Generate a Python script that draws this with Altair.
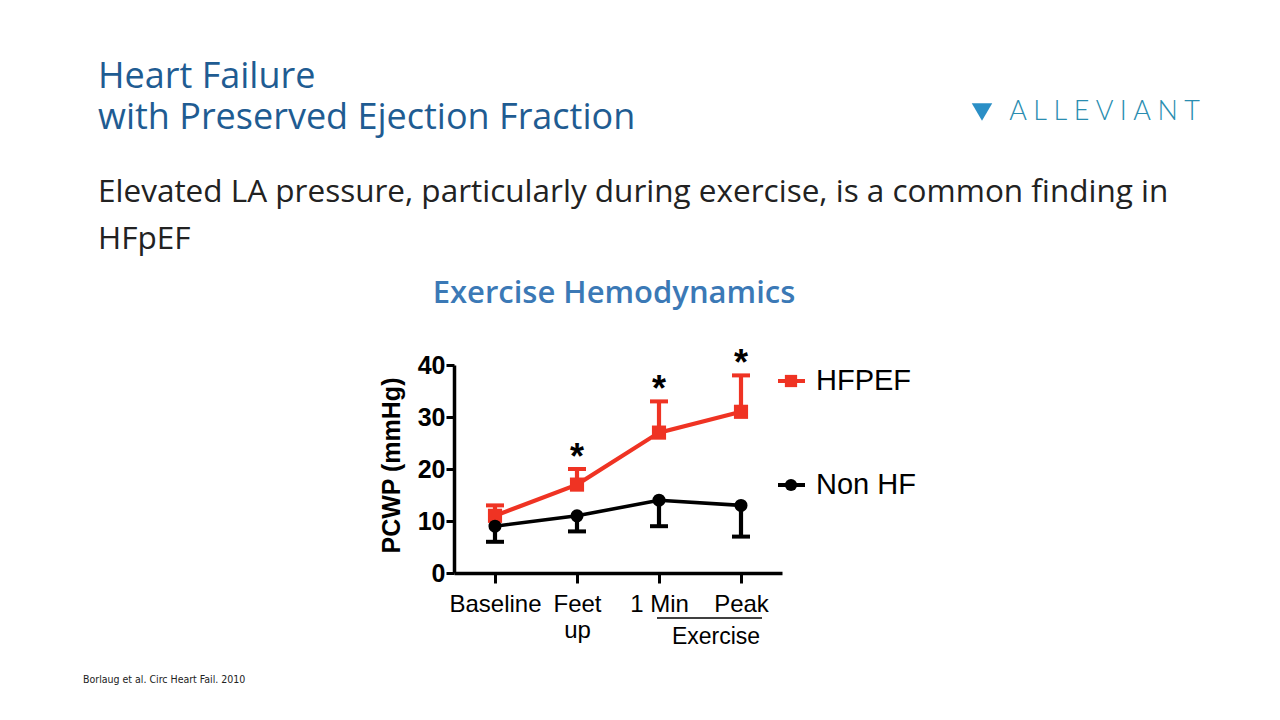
import altair as alt
import pandas as pd

# ---- data ----
categories = ["Baseline", "Feet|up", "1 Min", "Peak"]
hfpef_mean = [11, 17, 27, 31]
hfpef_upper = [13, 20, 33, 38]
nonhf_mean = [9, 11, 14, 13]
nonhf_lower = [6, 8, 9, 7]
significant = [False, True, True, True]
y_ticks = [0, 10, 20, 30, 40]

series_names = ["HFPEF", "Non HF"]
series_colors = ["#ef3323", "#000000"]

title_line1 = "Heart Failure"
title_line2 = "with Preserved Ejection Fraction"
subtitle_lines = "Elevated LA pressure, particularly during exercise, is a common finding in\nHFpEF"
chart_heading = "Exercise Hemodynamics"
logo_text = "A L L E V I A N T"
footnote = "Borlaug et al. Circ Heart Fail. 2010"
group_label = "Exercise"

hf = pd.DataFrame({"cat": categories, "mean": hfpef_mean, "err": hfpef_upper,
                   "series": series_names[0], "sig": significant})
nh = pd.DataFrame({"cat": categories, "mean": nonhf_mean, "err": nonhf_lower,
                   "series": series_names[1]})
stars = hf[hf["sig"]].assign(star="*")

FONT = "Liberation Sans"
SLIDE_FONT = "Open Sans"

xscale = alt.Scale(domain=categories, type="point", padding=0.5)
yscale = alt.Scale(domain=[0, 40], nice=False)

X = alt.X("cat:N", scale=xscale, sort=None,
          axis=alt.Axis(title=None, labelExpr="split(datum.label, '|')",
                        labelFont=FONT, labelFontSize=24, labelColor="black",
                        labelLineHeight=26, labelPadding=9, labelAngle=0,
                        tickSize=10, tickWidth=3, tickColor="black",
                        domainWidth=3.5, domainColor="black", grid=False))
Y = alt.Y("mean:Q", scale=yscale,
          axis=alt.Axis(values=y_ticks, title="PCWP (mmHg)", grid=False,
                        labelFont=FONT, labelFontSize=25, labelFontWeight="bold",
                        labelColor="black", labelPadding=1,
                        tickSize=8, tickWidth=3, tickColor="black",
                        domainWidth=3.5, domainColor="black",
                        titleFont=FONT, titleFontSize=25, titleFontWeight="bold",
                        titleColor="black", titleAngle=270, titleX=-63, titleY=100,
                        titleAlign="center", titleBaseline="middle"))

def series_layers(df, color, shape, size, lw):
    base = alt.Chart(df)
    bar = base.mark_rule(color=color, strokeWidth=4.2).encode(x=X, y=Y, y2="err:Q")
    cap = base.mark_tick(color=color, size=18, thickness=4, opacity=1).encode(
        x=alt.X("cat:N", scale=xscale, sort=None),
        y=alt.Y("err:Q", scale=yscale))
    line = base.mark_line(color=color, strokeWidth=lw).encode(x=X, y=Y)
    pts = base.mark_point(color=color, filled=True, opacity=1, shape=shape, size=size).encode(x=X, y=Y)
    return [bar, cap, line, pts]

layers = []
layers += series_layers(hf, series_colors[0], "square", 200, 4.2)
layers += series_layers(nh, series_colors[1], "circle", 170, 3.6)

star_layer = alt.Chart(stars).mark_text(font=FONT, fontSize=36, fontWeight="bold",
                                        color="black", baseline="alphabetic", dy=0).encode(
    x=alt.X("cat:N", scale=xscale, sort=None), y=alt.Y("err:Q", scale=yscale), text="star:N")
layers.append(star_layer)

# group annotation under the x axis
grp = pd.DataFrame({"start": [categories[2]], "end": [categories[3]], "label": [group_label]})
grp_rule = alt.Chart(grp).mark_rule(color="black", strokeWidth=1.5, xOffset=-2, x2Offset=21).encode(
    x=alt.X("start:N", scale=xscale, sort=None), x2="end:N", y=alt.value(253))
grp_text = alt.Chart(grp).mark_text(font=FONT, fontSize=23, color="black",
                                    baseline="middle", align="center", dx=-25).encode(
    x=alt.X("end:N", scale=xscale, sort=None), y=alt.value(272), text="label:N")
layers += [grp_rule, grp_text]

# legend
for i, (name, color, shape, yv) in enumerate(zip(series_names, series_colors, ["square", "circle"], [16, 120])):
    ld = pd.DataFrame({"name": [name]})
    layers.append(alt.Chart(ld).mark_rule(color=color, strokeWidth=4).encode(
        x=alt.value(324), x2=alt.value(351), y=alt.value(yv)))
    layers.append(alt.Chart(ld).mark_point(color=color, filled=True, opacity=1, shape=shape,
                                           size=150).encode(x=alt.value(337), y=alt.value(yv)))
    layers.append(alt.Chart(ld).mark_text(font=FONT, fontSize=29, color="black", align="left",
                                          baseline="middle").encode(
        x=alt.value(362), y=alt.value(yv), text="name:N"))

def slide_text(txt, x, y, **kw):
    return alt.Chart(pd.DataFrame({"t": [txt]})).mark_text(lineBreak="\n", **kw).encode(
        x=alt.value(x), y=alt.value(y), text="t:N")

# slide texts (relative to plot origin at page 454,365)
layers.append(slide_text(title_line1, -356, -277, font=SLIDE_FONT, fontSize=36, color="#1f5c92",
                         align="left", baseline="alphabetic"))
layers.append(slide_text(title_line2, -356, -236, font=SLIDE_FONT, fontSize=36, color="#1f5c92",
                         align="left", baseline="alphabetic"))
layers.append(slide_text(subtitle_lines, -356, -163, font=SLIDE_FONT, fontSize=31.5, color="#222222",
                         align="left", baseline="alphabetic", lineHeight=47))
layers.append(slide_text(chart_heading, 160, -62, font=SLIDE_FONT, fontSize=31, fontWeight=600,
                         color="#3b79b6", align="center", baseline="alphabetic"))
layers.append(slide_text(logo_text, 746, -245, font="Lato", fontSize=27, fontWeight=300,
                         color="#2a8db0", align="right", baseline="alphabetic"))
layers.append(slide_text(footnote, -371, 318,
                         font="'DejaVu Sans Condensed', 'Liberation Sans Narrow', 'Liberation Sans'",
                         fontSize=10.5, color="#222222", align="left", baseline="alphabetic"))
layers.append(alt.Chart(pd.DataFrame({"n": [logo_text]})).mark_point(
    shape="triangle-down", filled=True, opacity=1, color="#2b8fc6", size=420).encode(
    x=alt.value(528), y=alt.value(-253)))

chart = alt.layer(*layers).properties(
    width=328, height=208,
    padding={"left": 446, "top": 357, "right": 480, "bottom": 130},
    autosize=alt.AutoSizeParams(type="none"),
    background="white",
).configure_view(stroke=None)

chart.save("out.html", embed_options={"renderer": "svg", "actions": False})
